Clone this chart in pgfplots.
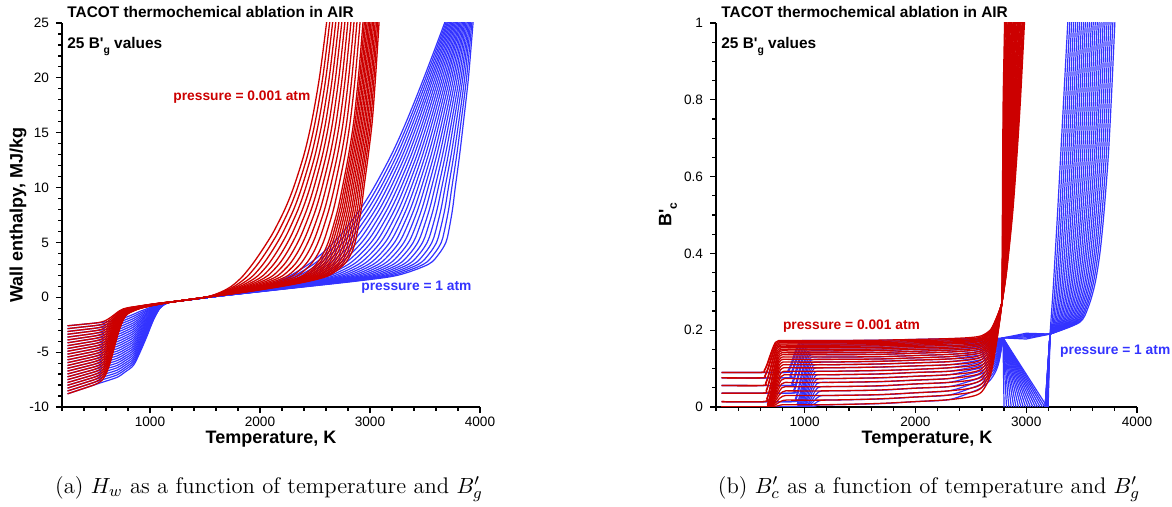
\documentclass[border=0pt]{standalone}
\usepackage{pgfplots}
\pgfplotsset{compat=1.18}
\usepackage{pgfplotstable}
\usepackage{fontspec}
\newfontfamily\arial{Liberation Sans}
\definecolor{rd}{RGB}{204,0,0}
\definecolor{bl}{RGB}{51,51,255}

% ---------- panel (a): low temperature part, rows = T, cols = 25 curves (H) ----------
\pgfplotstableread[header=false]{
250 -2.60 -2.86 -3.12 -3.37 -3.63 -3.89 -4.15 -4.41 -4.67 -4.92 -5.18 -5.44 -5.70 -5.96 -6.22 -6.47 -6.73 -6.99 -7.25 -7.51 -7.77 -8.02 -8.28 -8.54 -8.80
400 -2.45 -2.69 -2.94 -3.18 -3.43 -3.67 -3.91 -4.16 -4.40 -4.64 -4.89 -5.13 -5.38 -5.62 -5.86 -6.11 -6.35 -6.59 -6.84 -7.08 -7.33 -7.57 -7.81 -8.06 -8.30
500 -2.35 -2.58 -2.82 -3.05 -3.28 -3.52 -3.75 -3.98 -4.22 -4.45 -4.68 -4.92 -5.15 -5.38 -5.62 -5.85 -6.08 -6.32 -6.55 -6.78 -7.02 -7.25 -7.48 -7.72 -7.95
560 -2.25 -2.47 -2.70 -2.92 -3.14 -3.36 -3.59 -3.81 -4.03 -4.26 -4.48 -4.70 -4.93 -5.15 -5.37 -5.59 -5.82 -6.04 -6.26 -6.49 -6.71 -6.93 -7.15 -7.38 -7.60
600 -2.10 -2.30 -2.51 -2.71 -2.92 -3.12 -3.33 -3.53 -3.73 -3.94 -4.14 -4.35 -4.55 -4.75 -4.96 -5.16 -5.37 -5.57 -5.78 -5.98 -6.18 -6.39 -6.59 -6.80 -7.00
640 -1.85 -2.02 -2.19 -2.36 -2.53 -2.69 -2.86 -3.03 -3.20 -3.37 -3.54 -3.71 -3.88 -4.04 -4.21 -4.38 -4.55 -4.72 -4.89 -5.06 -5.23 -5.39 -5.56 -5.73 -5.90
680 -1.55 -1.67 -1.79 -1.91 -2.03 -2.14 -2.26 -2.38 -2.50 -2.62 -2.74 -2.86 -2.98 -3.09 -3.21 -3.33 -3.45 -3.57 -3.69 -3.81 -3.93 -4.04 -4.16 -4.28 -4.40
720 -1.25 -1.32 -1.40 -1.47 -1.54 -1.61 -1.69 -1.76 -1.83 -1.91 -1.98 -2.05 -2.13 -2.20 -2.27 -2.34 -2.42 -2.49 -2.56 -2.64 -2.71 -2.78 -2.85 -2.93 -3.00
760 -1.05 -1.09 -1.13 -1.17 -1.21 -1.25 -1.29 -1.33 -1.37 -1.41 -1.45 -1.49 -1.53 -1.56 -1.60 -1.64 -1.68 -1.72 -1.76 -1.80 -1.84 -1.88 -1.92 -1.96 -2.00
800 -0.95 -0.97 -1.00 -1.02 -1.04 -1.06 -1.09 -1.11 -1.13 -1.16 -1.18 -1.20 -1.23 -1.25 -1.27 -1.29 -1.32 -1.34 -1.36 -1.39 -1.41 -1.43 -1.45 -1.48 -1.50
900 -0.80 -0.81 -0.82 -0.83 -0.84 -0.85 -0.86 -0.87 -0.88 -0.89 -0.90 -0.91 -0.93 -0.94 -0.95 -0.96 -0.97 -0.98 -0.99 -1.00 -1.01 -1.02 -1.03 -1.04 -1.05
1000 -0.65 -0.66 -0.66 -0.67 -0.68 -0.68 -0.69 -0.69 -0.70 -0.71 -0.71 -0.72 -0.73 -0.73 -0.74 -0.74 -0.75 -0.76 -0.76 -0.77 -0.78 -0.78 -0.79 -0.79 -0.80
1100 -0.52 -0.52 -0.53 -0.53 -0.53 -0.54 -0.54 -0.54 -0.55 -0.55 -0.55 -0.56 -0.56 -0.56 -0.57 -0.57 -0.57 -0.58 -0.58 -0.58 -0.59 -0.59 -0.59 -0.60 -0.60
1200 -0.42 -0.42 -0.42 -0.42 -0.42 -0.42 -0.42 -0.42 -0.42 -0.42 -0.42 -0.42 -0.42 -0.42 -0.42 -0.42 -0.42 -0.42 -0.42 -0.42 -0.42 -0.42 -0.42 -0.42 -0.42
}\RAlow

\pgfplotstableread[header=false]{
250 -2.60 -2.86 -3.12 -3.37 -3.63 -3.89 -4.15 -4.41 -4.67 -4.92 -5.18 -5.44 -5.70 -5.96 -6.22 -6.47 -6.73 -6.99 -7.25 -7.51 -7.77 -8.02 -8.28 -8.54 -8.80
400 -2.45 -2.69 -2.94 -3.18 -3.43 -3.67 -3.91 -4.16 -4.40 -4.64 -4.89 -5.13 -5.38 -5.62 -5.86 -6.11 -6.35 -6.59 -6.84 -7.08 -7.33 -7.57 -7.81 -8.06 -8.30
550 -2.30 -2.53 -2.76 -2.99 -3.22 -3.45 -3.68 -3.90 -4.13 -4.36 -4.59 -4.82 -5.05 -5.28 -5.51 -5.74 -5.97 -6.20 -6.43 -6.65 -6.88 -7.11 -7.34 -7.57 -7.80
700 -2.10 -2.32 -2.53 -2.75 -2.97 -3.18 -3.40 -3.62 -3.83 -4.05 -4.27 -4.48 -4.70 -4.92 -5.13 -5.35 -5.57 -5.78 -6.00 -6.22 -6.43 -6.65 -6.87 -7.08 -7.30
775 -1.85 -2.06 -2.26 -2.47 -2.68 -2.88 -3.09 -3.29 -3.50 -3.71 -3.91 -4.12 -4.33 -4.53 -4.74 -4.94 -5.15 -5.36 -5.56 -5.77 -5.98 -6.18 -6.39 -6.59 -6.80
850 -1.55 -1.74 -1.94 -2.13 -2.33 -2.52 -2.71 -2.91 -3.10 -3.29 -3.49 -3.68 -3.88 -4.07 -4.26 -4.46 -4.65 -4.84 -5.04 -5.23 -5.43 -5.62 -5.81 -6.01 -6.20
910 -1.28 -1.44 -1.59 -1.75 -1.90 -2.06 -2.21 -2.37 -2.52 -2.68 -2.83 -2.99 -3.14 -3.30 -3.45 -3.61 -3.76 -3.92 -4.07 -4.23 -4.38 -4.54 -4.69 -4.85 -5.00
970 -1.05 -1.16 -1.26 -1.37 -1.48 -1.58 -1.69 -1.79 -1.90 -2.01 -2.11 -2.22 -2.33 -2.43 -2.54 -2.64 -2.75 -2.86 -2.96 -3.07 -3.18 -3.28 -3.39 -3.49 -3.60
1030 -0.80 -0.85 -0.91 -0.96 -1.02 -1.07 -1.13 -1.18 -1.23 -1.29 -1.34 -1.40 -1.45 -1.50 -1.56 -1.61 -1.67 -1.72 -1.78 -1.83 -1.88 -1.94 -1.99 -2.05 -2.10
1090 -0.62 -0.64 -0.65 -0.67 -0.68 -0.70 -0.72 -0.73 -0.75 -0.76 -0.78 -0.79 -0.81 -0.83 -0.84 -0.86 -0.87 -0.89 -0.90 -0.92 -0.94 -0.95 -0.97 -0.98 -1.00
1150 -0.48 -0.48 -0.49 -0.49 -0.49 -0.49 -0.50 -0.50 -0.50 -0.51 -0.51 -0.51 -0.52 -0.52 -0.52 -0.52 -0.53 -0.53 -0.53 -0.54 -0.54 -0.54 -0.54 -0.55 -0.55
1200 -0.42 -0.42 -0.42 -0.42 -0.42 -0.42 -0.42 -0.42 -0.42 -0.42 -0.42 -0.42 -0.42 -0.42 -0.42 -0.42 -0.42 -0.42 -0.42 -0.42 -0.42 -0.42 -0.42 -0.42 -0.42
}\BAlow

% ---------- panel (a): high temperature part, rows = H, cols = T of 25 curves ----------
\pgfplotstableread[header=false]{
-0.42 1200 1200 1200 1200 1200 1200 1200 1200 1200 1200 1200 1200 1200 1200 1200 1200 1200 1200 1200 1200 1200 1200 1200 1200 1200
0 1505 1505 1505 1505 1505 1505 1505 1505 1505 1505 1505 1505 1505 1505 1505 1505 1505 1505 1505 1505 1505 1505 1505 1505 1505
0.5 1650 1663 1677 1690 1703 1717 1730 1743 1757 1770 1783 1797 1810 1816 1821 1827 1833 1839 1845 1851 1857 1863 1868 1874 1880
1 1740 1767 1793 1820 1847 1873 1900 1926 1953 1980 2006 2033 2059 2071 2083 2095 2106 2118 2130 2142 2153 2165 2177 2189 2200
1.5 1800 1838 1877 1915 1953 1991 2029 2067 2106 2144 2182 2220 2258 2275 2292 2309 2325 2343 2359 2376 2393 2410 2426 2444 2460
2 1850 1895 1941 1986 2031 2075 2121 2166 2211 2256 2302 2347 2391 2412 2431 2451 2471 2491 2511 2531 2550 2571 2590 2611 2630
3 1930 1978 2027 2075 2124 2171 2220 2268 2317 2365 2414 2462 2510 2531 2552 2574 2595 2616 2637 2659 2680 2702 2722 2744 2765
4 2000 2048 2096 2144 2193 2240 2288 2336 2384 2432 2481 2529 2576 2598 2618 2640 2661 2682 2703 2725 2745 2767 2788 2809 2830
5 2065 2111 2158 2204 2251 2296 2343 2389 2435 2482 2528 2575 2620 2641 2661 2682 2702 2723 2743 2763 2783 2804 2824 2845 2865
6 2125 2169 2213 2257 2301 2345 2389 2433 2477 2521 2565 2609 2652 2672 2691 2711 2730 2750 2769 2788 2807 2827 2846 2866 2885
8 2225 2265 2306 2346 2386 2426 2466 2507 2547 2587 2627 2668 2707 2725 2743 2761 2778 2796 2814 2832 2849 2867 2885 2903 2920
10 2305 2342 2379 2416 2454 2490 2527 2564 2601 2638 2676 2713 2749 2766 2782 2798 2814 2831 2847 2864 2880 2896 2912 2929 2945
13 2400 2434 2468 2502 2536 2569 2603 2637 2671 2705 2739 2773 2806 2821 2836 2851 2866 2881 2896 2911 2925 2941 2955 2970 2985
16 2470 2502 2534 2566 2598 2629 2661 2693 2725 2757 2789 2820 2852 2866 2880 2894 2908 2922 2936 2950 2964 2978 2992 3006 3020
20 2540 2570 2599 2629 2658 2687 2717 2747 2776 2806 2835 2865 2894 2907 2920 2933 2946 2959 2972 2985 2998 3011 3024 3037 3050
25 2605 2633 2660 2688 2716 2743 2771 2798 2826 2854 2881 2909 2936 2948 2960 2973 2985 2997 3009 3021 3033 3046 3058 3070 3082
27 2625 2652 2679 2706 2733 2760 2787 2814 2841 2868 2895 2922 2949 2961 2973 2985 2997 3009 3020 3033 3044 3056 3068 3080 3092
}\RAhigh

\pgfplotstableread[header=false]{
-0.42 1200 1200 1200 1200 1200 1200 1200 1200 1200 1200 1200 1200 1200 1200 1200 1200 1200 1200 1200 1200 1200 1200 1200 1200 1200
0 1535 1535 1535 1535 1535 1535 1535 1535 1535 1535 1535 1535 1535 1535 1535 1535 1535 1535 1535 1535 1535 1535 1535 1535 1535
0.5 1850 1856 1862 1868 1873 1879 1885 1891 1897 1902 1908 1914 1920 1926 1932 1938 1943 1949 1955 1961 1967 1973 1978 1984 1990
1 2040 2057 2074 2091 2108 2125 2143 2160 2177 2194 2211 2228 2245 2262 2279 2296 2313 2330 2348 2365 2382 2399 2416 2433 2450
1.5 2175 2205 2235 2266 2296 2326 2356 2386 2417 2447 2477 2507 2538 2568 2598 2628 2658 2689 2719 2749 2779 2809 2840 2870 2900
2 2280 2320 2361 2401 2442 2482 2523 2563 2603 2644 2684 2725 2765 2805 2846 2886 2927 2967 3008 3048 3088 3129 3169 3210 3250
3 2440 2485 2531 2576 2622 2667 2713 2758 2803 2849 2894 2940 2985 3030 3076 3121 3167 3212 3258 3303 3348 3394 3439 3485 3530
4 2565 2609 2654 2698 2743 2787 2831 2876 2920 2964 3009 3053 3098 3142 3186 3231 3275 3319 3364 3408 3453 3497 3541 3586 3630
5 2670 2713 2755 2798 2840 2883 2925 2968 3010 3053 3095 3138 3180 3223 3265 3308 3350 3393 3435 3478 3520 3563 3605 3648 3690
6 2760 2800 2840 2879 2919 2959 2999 3039 3078 3118 3158 3198 3238 3277 3317 3357 3397 3436 3476 3516 3556 3596 3635 3675 3715
8 2910 2945 2980 3015 3050 3085 3120 3155 3190 3225 3260 3295 3330 3365 3400 3435 3470 3505 3540 3575 3610 3645 3680 3715 3750
10 3035 3066 3097 3127 3158 3189 3220 3251 3282 3312 3343 3374 3405 3436 3467 3497 3528 3559 3590 3621 3652 3682 3713 3744 3775
13 3195 3221 3247 3273 3298 3324 3350 3376 3402 3428 3453 3479 3505 3531 3557 3583 3608 3634 3660 3686 3712 3738 3763 3789 3815
16 3330 3352 3373 3395 3417 3438 3460 3482 3503 3525 3547 3568 3590 3612 3633 3655 3677 3698 3720 3742 3763 3785 3807 3828 3850
20 3490 3507 3524 3541 3558 3574 3591 3608 3625 3642 3659 3676 3693 3709 3726 3743 3760 3777 3794 3811 3828 3844 3861 3878 3895
25 3678 3689 3700 3710 3721 3732 3743 3754 3764 3775 3786 3797 3808 3818 3829 3840 3851 3861 3872 3883 3894 3905 3915 3926 3937
27 3745 3754 3763 3771 3780 3789 3798 3806 3815 3824 3833 3841 3850 3859 3868 3876 3885 3894 3903 3911 3920 3929 3938 3946 3955
}\BAhigh

% ---------- panel (b): plateau parts, rows = T, cols = B' of 25 curves ----------
\pgfplotstableread[header=false]{
850 0.173 0.170 0.167 0.164 0.161 0.158 0.154 0.150 0.146 0.141 0.136 0.130 0.124 0.117 0.110 0.102 0.093 0.084 0.074 0.064 0.053 0.042 0.030 0.018 0.006
1200 0.173 0.170 0.167 0.164 0.161 0.158 0.154 0.150 0.146 0.141 0.136 0.130 0.124 0.117 0.110 0.102 0.093 0.084 0.074 0.064 0.053 0.042 0.030 0.018 0.006
1650 0.174 0.171 0.168 0.165 0.162 0.159 0.155 0.151 0.147 0.142 0.137 0.131 0.125 0.119 0.112 0.104 0.095 0.086 0.076 0.066 0.055 0.044 0.032 0.021 0.009
2000 0.176 0.173 0.170 0.167 0.164 0.161 0.158 0.154 0.150 0.145 0.140 0.134 0.128 0.122 0.115 0.107 0.098 0.090 0.080 0.070 0.060 0.049 0.037 0.026 0.014
2300 0.178 0.175 0.172 0.169 0.167 0.164 0.160 0.156 0.152 0.148 0.143 0.137 0.131 0.125 0.118 0.110 0.102 0.093 0.084 0.074 0.064 0.053 0.042 0.031 0.019
2500 0.181 0.178 0.175 0.173 0.170 0.167 0.163 0.160 0.156 0.151 0.147 0.141 0.136 0.129 0.123 0.115 0.107 0.099 0.090 0.081 0.070 0.060 0.049 0.038 0.027
2600 0.186 0.183 0.180 0.178 0.175 0.173 0.169 0.166 0.162 0.158 0.153 0.148 0.143 0.137 0.131 0.124 0.116 0.108 0.100 0.091 0.081 0.072 0.061 0.051 0.040
2680 0.202 0.200 0.198 0.196 0.194 0.192 0.189 0.186 0.183 0.180 0.176 0.172 0.168 0.163 0.158 0.152 0.146 0.140 0.133 0.126 0.118 0.110 0.102 0.094 0.085
2730 0.231 0.230 0.229 0.228 0.226 0.225 0.224 0.222 0.220 0.218 0.216 0.214 0.212 0.209 0.206 0.203 0.199 0.196 0.192 0.188 0.183 0.179 0.174 0.169 0.164
2760 0.253 0.252 0.252 0.251 0.250 0.250 0.249 0.248 0.248 0.247 0.246 0.245 0.244 0.243 0.241 0.240 0.238 0.237 0.235 0.233 0.231 0.229 0.227 0.225 0.223
2780 0.27 0.27 0.27 0.27 0.27 0.27 0.27 0.27 0.27 0.27 0.27 0.27 0.27 0.27 0.27 0.27 0.27 0.27 0.27 0.27 0.27 0.27 0.27 0.27 0.27
}\RBmid

\pgfplotstableread[header=false]{
0.27 2780 2780 2780 2780 2780 2780 2780 2780 2780 2780 2780 2780 2780 2780 2780 2780 2780 2780 2780 2780 2780 2780 2780 2780 2780
0.35 2782 2784 2785 2787 2789 2790 2792 2794 2795 2797 2799 2800 2802 2804 2805 2807 2809 2810 2812 2814 2815 2817 2819 2820 2822
0.5 2785 2789 2793 2796 2800 2804 2808 2812 2815 2819 2823 2827 2831 2834 2838 2842 2846 2849 2853 2857 2861 2865 2868 2872 2876
0.65 2788 2793 2799 2804 2809 2814 2820 2825 2830 2836 2841 2846 2852 2857 2862 2867 2873 2878 2883 2889 2894 2899 2904 2910 2915
0.8 2792 2799 2805 2812 2818 2825 2831 2838 2844 2851 2857 2864 2870 2877 2883 2890 2896 2903 2909 2916 2922 2929 2935 2942 2948
1.0 2805 2812 2820 2827 2835 2842 2850 2857 2865 2872 2880 2887 2895 2902 2909 2917 2924 2932 2939 2947 2954 2962 2969 2977 2984
1.05 2809 2817 2824 2832 2840 2847 2855 2862 2870 2878 2885 2893 2900 2908 2916 2923 2931 2939 2946 2954 2961 2969 2977 2984 2992
}\RBhigh

\pgfplotstableread[header=false]{
1250 0.173 0.170 0.167 0.164 0.161 0.158 0.154 0.150 0.146 0.141 0.136 0.130 0.124 0.117 0.110 0.102 0.093 0.084 0.074 0.064 0.053 0.042 0.030 0.018 0.006
1700 0.174 0.171 0.168 0.165 0.162 0.159 0.155 0.151 0.147 0.142 0.137 0.131 0.125 0.119 0.112 0.104 0.095 0.086 0.076 0.066 0.055 0.044 0.032 0.021 0.009
2000 0.176 0.173 0.170 0.167 0.164 0.161 0.158 0.154 0.150 0.145 0.140 0.134 0.128 0.122 0.115 0.107 0.098 0.090 0.080 0.070 0.060 0.049 0.037 0.026 0.014
2300 0.178 0.175 0.172 0.169 0.167 0.164 0.160 0.156 0.152 0.148 0.143 0.137 0.131 0.125 0.118 0.110 0.102 0.093 0.084 0.074 0.064 0.053 0.042 0.031 0.019
2500 0.178 0.176 0.173 0.170 0.169 0.166 0.162 0.159 0.155 0.152 0.147 0.142 0.137 0.132 0.125 0.118 0.111 0.103 0.096 0.087 0.078 0.068 0.059 0.049 0.038
2600 0.178 0.176 0.174 0.171 0.170 0.167 0.164 0.161 0.158 0.154 0.150 0.146 0.141 0.136 0.130 0.124 0.118 0.110 0.103 0.095 0.087 0.078 0.070 0.061 0.051
2680 0.179 0.177 0.175 0.173 0.171 0.169 0.167 0.164 0.161 0.159 0.155 0.151 0.147 0.143 0.139 0.133 0.128 0.122 0.116 0.109 0.102 0.095 0.088 0.080 0.072
2730 0.179 0.177 0.176 0.174 0.173 0.172 0.170 0.168 0.165 0.163 0.161 0.158 0.155 0.151 0.148 0.144 0.139 0.135 0.130 0.125 0.120 0.114 0.108 0.103 0.096
2760 0.179 0.178 0.177 0.176 0.176 0.175 0.173 0.172 0.171 0.169 0.167 0.165 0.163 0.161 0.159 0.156 0.154 0.150 0.147 0.144 0.141 0.137 0.133 0.129 0.125
2790 0.18 0.18 0.18 0.18 0.18 0.18 0.18 0.18 0.18 0.18 0.18 0.18 0.18 0.18 0.18 0.18 0.18 0.18 0.18 0.18 0.18 0.18 0.18 0.18 0.18
}\BBmid

\pgfplotstableread[header=false]{
0.19 3215 3215 3215 3215 3215 3215 3215 3215 3215 3215 3215 3215 3215 3215 3215 3215 3215 3215 3215 3215 3215 3215 3215 3215 3215
0.22 3480 3469 3458 3448 3437 3426 3416 3405 3394 3383 3373 3362 3351 3340 3330 3319 3308 3297 3287 3276 3265 3254 3244 3233 3222
0.26 3560 3546 3533 3519 3505 3492 3478 3464 3451 3437 3423 3410 3396 3382 3369 3355 3341 3328 3314 3300 3287 3273 3259 3246 3232
0.32 3620 3604 3589 3573 3558 3542 3527 3511 3495 3480 3464 3449 3433 3417 3402 3386 3371 3355 3339 3324 3308 3293 3277 3262 3246
0.40 3665 3648 3631 3615 3598 3581 3564 3547 3531 3514 3497 3480 3464 3447 3430 3413 3396 3380 3363 3346 3329 3312 3296 3279 3262
0.50 3700 3683 3665 3648 3630 3613 3596 3578 3561 3543 3526 3508 3491 3474 3456 3439 3421 3404 3387 3369 3352 3334 3317 3300 3282
0.65 3740 3722 3704 3686 3668 3650 3632 3615 3597 3579 3561 3543 3525 3507 3489 3471 3453 3435 3418 3400 3382 3364 3346 3328 3310
0.80 3768 3750 3732 3714 3696 3678 3660 3643 3625 3607 3589 3571 3553 3535 3517 3499 3481 3463 3446 3428 3410 3392 3374 3356 3338
1.00 3800 3782 3765 3747 3729 3711 3694 3676 3658 3641 3623 3605 3588 3570 3552 3534 3517 3499 3481 3464 3446 3428 3410 3393 3375
1.05 3808 3790 3773 3755 3738 3720 3702 3685 3667 3649 3632 3614 3597 3579 3561 3544 3526 3508 3491 3473 3456 3438 3420 3403 3385
}\BBhigh

\pgfplotsset{
  rr/.style={rd, line width=0.65pt, no marks},
  bb/.style={bl, line width=0.6pt, no marks},
  tacot/.style={
    scale only axis, anchor=south west, height=192pt,
    xmin=200, xmax=4000,
    axis lines=left, axis line style={-, line width=0.9pt},
    tick align=outside,
    xtick={1000,2000,3000,4000},
    minor xtick={200,400,...,3800},
    major tick length=3pt, minor tick length=1.8pt,
    every tick/.style={black, line width=0.6pt},
    ticklabel style={font=\arial\fontsize{6.8}{8}\selectfont},
    xticklabel style={yshift=1.5pt},
    /pgf/number format/assume math mode=true,
    /pgf/number format/1000 sep={},
    scaled ticks=false,
    clip=true,
  }
}

\begin{document}
\begin{tikzpicture}
\path[use as bounding box] (-31pt,-50pt) rectangle (555pt,203.5pt);

% ================= panel (a) =================
\begin{axis}[tacot, at={(0pt,0pt)}, width=209pt,
  ymin=-10, ymax=25, ytick={-10,-5,...,25}, minor ytick={-9,...,24}]
\pgfplotsinvokeforeach{1,...,25}{\addplot[bb, smooth] table[x index=0, y index=#1] {\BAlow};}
\pgfplotsinvokeforeach{1,...,25}{\addplot[bb, smooth] table[x index=#1, y index=0] {\BAhigh};}
\pgfplotsinvokeforeach{1,...,25}{\addplot[rr, smooth] table[x index=0, y index=#1] {\RAlow};}
\pgfplotsinvokeforeach{1,...,25}{\addplot[rr, smooth] table[x index=#1, y index=0] {\RAhigh};}
\end{axis}

% ================= panel (b) =================
\begin{axis}[tacot, at={(327pt,0pt)}, width=210.5pt,
  ymin=0, ymax=1, ytick={0,0.2,...,1}, minor ytick={0.05,0.1,...,0.95}]
% blue: transitions
\addplot[bb, smooth] coordinates {(250,0.090)(820,0.090)(850,0.095)(875,0.111)(900,0.132)(925,0.152)(950,0.168)(980,0.173)(1250,0.173)};
\addplot[bb, smooth] coordinates {(250,0.090)(828,0.090)(858,0.095)(883,0.110)(908,0.130)(933,0.150)(958,0.165)(988,0.170)(1250,0.170)};
\addplot[bb, smooth] coordinates {(250,0.076)(837,0.076)(867,0.081)(892,0.099)(917,0.122)(942,0.144)(967,0.162)(997,0.167)(1250,0.167)};
\addplot[bb, smooth] coordinates {(250,0.076)(845,0.076)(875,0.081)(900,0.098)(925,0.120)(950,0.142)(975,0.159)(1005,0.164)(1250,0.164)};
\addplot[bb, smooth] coordinates {(250,0.056)(853,0.056)(883,0.062)(908,0.082)(933,0.109)(958,0.135)(983,0.155)(1013,0.161)(1250,0.161)};
\addplot[bb, smooth] coordinates {(250,0.056)(862,0.056)(892,0.062)(917,0.082)(942,0.107)(967,0.133)(992,0.152)(1022,0.158)(1250,0.158)};
\addplot[bb, smooth] coordinates {(250,0.036)(870,0.036)(900,0.043)(925,0.066)(950,0.095)(975,0.125)(1000,0.147)(1030,0.154)(1250,0.154)};
\addplot[bb, smooth] coordinates {(250,0.036)(878,0.036)(908,0.043)(933,0.065)(958,0.093)(983,0.122)(1008,0.143)(1038,0.150)(1250,0.150)};
\addplot[bb, smooth] coordinates {(250,0.014)(887,0.014)(917,0.022)(942,0.047)(967,0.080)(992,0.113)(1017,0.138)(1047,0.146)(1250,0.146)};
\addplot[bb, smooth] coordinates {(250,0.014)(895,0.014)(925,0.022)(950,0.046)(975,0.078)(1000,0.109)(1025,0.133)(1055,0.141)(1250,0.141)};
\addplot[bb, smooth] coordinates {(250,0)(903,0)(933,0.008)(958,0.034)(983,0.068)(1008,0.102)(1033,0.128)(1063,0.136)(1250,0.136)};
\addplot[bb, smooth] coordinates {(250,0)(912,0)(942,0.008)(967,0.033)(992,0.065)(1017,0.098)(1042,0.122)(1072,0.130)(1250,0.130)};
\addplot[bb, smooth] coordinates {(250,0)(920,0)(950,0.007)(975,0.031)(1000,0.062)(1025,0.093)(1050,0.117)(1080,0.124)(1250,0.124)};
\addplot[bb, smooth] coordinates {(250,0)(928,0)(958,0.007)(983,0.029)(1008,0.059)(1033,0.088)(1058,0.110)(1088,0.117)(1250,0.117)};
\addplot[bb, smooth] coordinates {(250,0)(937,0)(967,0.007)(992,0.028)(1017,0.055)(1042,0.083)(1067,0.103)(1097,0.110)(1250,0.110)};
\addplot[bb, smooth] coordinates {(250,0)(945,0)(975,0.006)(1000,0.026)(1025,0.051)(1050,0.077)(1075,0.096)(1105,0.102)(1250,0.102)};
\addplot[bb, smooth] coordinates {(250,0)(953,0)(983,0.006)(1008,0.023)(1033,0.047)(1058,0.070)(1083,0.087)(1113,0.093)(1250,0.093)};
\addplot[bb, smooth] coordinates {(250,0)(962,0)(992,0.005)(1017,0.021)(1042,0.042)(1067,0.063)(1092,0.079)(1122,0.084)(1250,0.084)};
\addplot[bb, smooth] coordinates {(250,0)(970,0)(1000,0.004)(1025,0.019)(1050,0.037)(1075,0.056)(1100,0.070)(1130,0.074)(1250,0.074)};
\addplot[bb, smooth] coordinates {(250,0)(978,0)(1008,0.004)(1033,0.016)(1058,0.032)(1083,0.048)(1108,0.060)(1138,0.064)(1250,0.064)};
\addplot[bb, smooth] coordinates {(250,0)(987,0)(1017,0.003)(1042,0.013)(1067,0.027)(1092,0.040)(1117,0.050)(1147,0.053)(1250,0.053)};
\addplot[bb, smooth] coordinates {(250,0)(995,0)(1025,0.003)(1050,0.011)(1075,0.021)(1100,0.032)(1125,0.039)(1155,0.042)(1250,0.042)};
\addplot[bb, smooth] coordinates {(250,0)(1003,0)(1033,0.002)(1058,0.008)(1083,0.015)(1108,0.023)(1133,0.028)(1163,0.030)(1250,0.030)};
\addplot[bb, smooth] coordinates {(250,0)(1012,0)(1042,0.001)(1067,0.005)(1092,0.009)(1117,0.014)(1142,0.017)(1172,0.018)(1250,0.018)};
\addplot[bb, smooth] coordinates {(250,0)(1020,0)(1050,0.000)(1075,0.002)(1100,0.003)(1125,0.005)(1150,0.006)(1180,0.006)(1250,0.006)};
% blue: plateaus
\pgfplotsinvokeforeach{1,...,25}{\addplot[bb, smooth] table[x index=0, y index=#1] {\BBmid};}
% blue: fan after 2790 K
\addplot[bb] coordinates {(2790,0.18)(3000,0.192)(3215,0.19)};
\addplot[bb] coordinates {(2790,0.18)(3000,0.189)(3215,0.19)};
\addplot[bb] coordinates {(2790,0.18)(3000,0.186)(3215,0.19)};
\addplot[bb] coordinates {(2790,0.18)(3000,0.183)(3215,0.19)};
\addplot[bb] coordinates {(2790,0.18)(3000,0.180)(3215,0.19)};
\addplot[bb] coordinates {(2790,0.18)(3000,0.177)(3215,0.19)};
\addplot[bb] coordinates {(2790,0.18)(3190,0)(3193,-0.03)(3195,-0.03)(3198,0)(3215,0.19)};
\addplot[bb] coordinates {(2790,0.18)(3168,0)(3171,-0.03)(3192,-0.03)(3195,0)(3215,0.19)};
\addplot[bb] coordinates {(2790,0.18)(3147,0)(3150,-0.03)(3189,-0.03)(3192,0)(3215,0.19)};
\addplot[bb] coordinates {(2790,0.18)(3125,0)(3128,-0.03)(3187,-0.03)(3190,0)(3215,0.19)};
\addplot[bb] coordinates {(2790,0.18)(3103,0)(3106,-0.03)(3185,-0.03)(3188,0)(3215,0.19)};
\addplot[bb] coordinates {(2790,0.18)(3082,0)(3085,-0.03)(3183,-0.03)(3186,0)(3215,0.19)};
\addplot[bb] coordinates {(2790,0.18)(3060,0)(3063,-0.03)(3181,-0.03)(3184,0)(3215,0.19)};
\addplot[bb] coordinates {(2790,0.18)(3038,0)(3041,-0.03)(3179,-0.03)(3182,0)(3215,0.19)};
\addplot[bb] coordinates {(2790,0.18)(3017,0)(3020,-0.03)(3177,-0.03)(3180,0)(3215,0.19)};
\addplot[bb] coordinates {(2790,0.18)(2995,0)(2998,-0.03)(3175,-0.03)(3178,0)(3215,0.19)};
\addplot[bb] coordinates {(2790,0.18)(2973,0)(2976,-0.03)(3174,-0.03)(3177,0)(3215,0.19)};
\addplot[bb] coordinates {(2790,0.18)(2952,0)(2955,-0.03)(3173,-0.03)(3176,0)(3215,0.19)};
\addplot[bb] coordinates {(2790,0.18)(2930,0)(2933,-0.03)(3172,-0.03)(3175,0)(3215,0.19)};
\addplot[bb] coordinates {(2790,0.18)(2908,0)(2911,-0.03)(3171,-0.03)(3174,0)(3215,0.19)};
\addplot[bb] coordinates {(2790,0.18)(2887,0)(2890,-0.03)(3170,-0.03)(3173,0)(3215,0.19)};
\addplot[bb] coordinates {(2790,0.18)(2865,0)(2868,-0.03)(3169,-0.03)(3172,0)(3215,0.19)};
\addplot[bb] coordinates {(2790,0.18)(2843,0)(2846,-0.03)(3168,-0.03)(3171,0)(3215,0.19)};
\addplot[bb] coordinates {(2790,0.18)(2822,0)(2825,-0.03)(3167,-0.03)(3170,0)(3215,0.19)};
\addplot[bb] coordinates {(2790,0.18)(2800,0)(2803,-0.03)(3167,-0.03)(3170,0)(3215,0.19)};
% blue: final rise
\pgfplotsinvokeforeach{1,...,25}{\addplot[bb, smooth] table[x index=#1, y index=0] {\BBhigh};}
% red: transitions
\addplot[rr, smooth] coordinates {(250,0.090)(605,0.090)(635,0.095)(660,0.111)(685,0.132)(710,0.152)(735,0.168)(765,0.173)(850,0.173)};
\addplot[rr, smooth] coordinates {(250,0.090)(608,0.090)(638,0.095)(663,0.110)(688,0.130)(713,0.150)(738,0.165)(768,0.170)(850,0.170)};
\addplot[rr, smooth] coordinates {(250,0.076)(611,0.076)(641,0.081)(666,0.099)(691,0.122)(716,0.144)(741,0.162)(771,0.167)(850,0.167)};
\addplot[rr, smooth] coordinates {(250,0.076)(614,0.076)(644,0.081)(669,0.098)(694,0.120)(719,0.142)(744,0.159)(774,0.164)(850,0.164)};
\addplot[rr, smooth] coordinates {(250,0.056)(617,0.056)(647,0.062)(672,0.082)(697,0.109)(722,0.135)(747,0.155)(777,0.161)(850,0.161)};
\addplot[rr, smooth] coordinates {(250,0.056)(620,0.056)(650,0.062)(675,0.082)(700,0.107)(725,0.133)(750,0.152)(780,0.158)(850,0.158)};
\addplot[rr, smooth] coordinates {(250,0.036)(623,0.036)(653,0.043)(678,0.066)(703,0.095)(728,0.125)(753,0.147)(783,0.154)(850,0.154)};
\addplot[rr, smooth] coordinates {(250,0.036)(626,0.036)(656,0.043)(681,0.065)(706,0.093)(731,0.122)(756,0.143)(786,0.150)(850,0.150)};
\addplot[rr, smooth] coordinates {(250,0.014)(629,0.014)(659,0.022)(684,0.047)(709,0.080)(734,0.113)(759,0.138)(789,0.146)(850,0.146)};
\addplot[rr, smooth] coordinates {(250,0.014)(632,0.014)(662,0.022)(687,0.046)(712,0.078)(737,0.109)(762,0.133)(792,0.141)(850,0.141)};
\addplot[rr, smooth] coordinates {(250,0)(635,0)(665,0.008)(690,0.034)(715,0.068)(740,0.102)(765,0.128)(795,0.136)(850,0.136)};
\addplot[rr, smooth] coordinates {(250,0)(638,0)(668,0.008)(693,0.033)(718,0.065)(743,0.098)(768,0.122)(798,0.130)(850,0.130)};
\addplot[rr, smooth] coordinates {(250,0)(641,0)(671,0.007)(696,0.031)(721,0.062)(746,0.093)(771,0.117)(801,0.124)(850,0.124)};
\addplot[rr, smooth] coordinates {(250,0)(644,0)(674,0.007)(699,0.029)(724,0.059)(749,0.088)(774,0.110)(804,0.117)(850,0.117)};
\addplot[rr, smooth] coordinates {(250,0)(647,0)(677,0.007)(702,0.028)(727,0.055)(752,0.083)(777,0.103)(807,0.110)(850,0.110)};
\addplot[rr, smooth] coordinates {(250,0)(650,0)(680,0.006)(705,0.026)(730,0.051)(755,0.077)(780,0.096)(810,0.102)(850,0.102)};
\addplot[rr, smooth] coordinates {(250,0)(653,0)(683,0.006)(708,0.023)(733,0.047)(758,0.070)(783,0.087)(813,0.093)(850,0.093)};
\addplot[rr, smooth] coordinates {(250,0)(656,0)(686,0.005)(711,0.021)(736,0.042)(761,0.063)(786,0.079)(816,0.084)(850,0.084)};
\addplot[rr, smooth] coordinates {(250,0)(659,0)(689,0.004)(714,0.019)(739,0.037)(764,0.056)(789,0.070)(819,0.074)(850,0.074)};
\addplot[rr, smooth] coordinates {(250,0)(662,0)(692,0.004)(717,0.016)(742,0.032)(767,0.048)(792,0.060)(822,0.064)(850,0.064)};
\addplot[rr, smooth] coordinates {(250,0)(665,0)(695,0.003)(720,0.013)(745,0.027)(770,0.040)(795,0.050)(825,0.053)(850,0.053)};
\addplot[rr, smooth] coordinates {(250,0)(668,0)(698,0.003)(723,0.011)(748,0.021)(773,0.032)(798,0.039)(828,0.042)(850,0.042)};
\addplot[rr, smooth] coordinates {(250,0)(671,0)(701,0.002)(726,0.008)(751,0.015)(776,0.023)(801,0.028)(831,0.030)(850,0.030)};
\addplot[rr, smooth] coordinates {(250,0)(674,0)(704,0.001)(729,0.005)(754,0.009)(779,0.014)(804,0.017)(834,0.018)(850,0.018)};
\addplot[rr, smooth] coordinates {(250,0)(677,0)(707,0.000)(732,0.002)(757,0.003)(782,0.005)(807,0.006)(837,0.006)(850,0.006)};
% red: plateaus and sublimation rise
\pgfplotsinvokeforeach{1,...,25}{\addplot[rr, smooth] table[x index=0, y index=#1] {\RBmid};}
\pgfplotsinvokeforeach{1,...,25}{\addplot[rr, smooth] table[x index=#1, y index=0] {\RBhigh};}
\end{axis}

% ================= texts =================
\begin{scope}[every node/.style={inner sep=0pt}]
\node[anchor=base west, font=\arial\bfseries\fontsize{7.7}{9}\selectfont] at (2.5pt,194.5pt) {TACOT thermochemical ablation in AIR};
\node[anchor=base west, font=\arial\bfseries\fontsize{7.7}{9}\selectfont] at (2.5pt,179pt) {25 B'\raisebox{-0.6ex}{\fontsize{5.2}{6}\selectfont g} values};
\node[anchor=base west, font=\arial\bfseries\fontsize{7.7}{9}\selectfont] at (329.5pt,194.5pt) {TACOT thermochemical ablation in AIR};
\node[anchor=base west, font=\arial\bfseries\fontsize{7.7}{9}\selectfont] at (329.5pt,179pt) {25 B'\raisebox{-0.6ex}{\fontsize{5.2}{6}\selectfont g} values};

\node[rotate=90, font=\arial\bfseries\fontsize{9}{10}\selectfont] at (-22pt,96pt) {Wall enthalpy, MJ/kg};
\node[rotate=90, font=\arial\bfseries\fontsize{9}{10}\selectfont] at (303pt,96pt) {B'\raisebox{-0.6ex}{\fontsize{6}{7}\selectfont c}};
\node[font=\arial\bfseries\fontsize{9}{10}\selectfont] at (104.5pt,-16pt) {Temperature, K};
\node[font=\arial\bfseries\fontsize{9}{10}\selectfont] at (432.5pt,-16pt) {Temperature, K};

\node[anchor=west, text=rd, font=\arial\bfseries\fontsize{6.9}{8}\selectfont] at (55.5pt,155pt) {pressure = 0.001 atm};
\node[anchor=west, text=bl, font=\arial\bfseries\fontsize{6.9}{8}\selectfont] at (149.5pt,60pt) {pressure = 1 atm};
\node[anchor=west, text=rd, font=\arial\bfseries\fontsize{6.9}{8}\selectfont] at (360.3pt,40.3pt) {pressure = 0.001 atm};
\node[anchor=west, text=bl, font=\arial\bfseries\fontsize{6.9}{8}\selectfont] at (498.9pt,28pt) {pressure = 1 atm};

\node[font=\fontsize{11.3}{13}\selectfont] at (103.5pt,-41pt) {(a) $H_w$ as a function of temperature and $B'_g$};
\node[font=\fontsize{11.3}{13}\selectfont] at (433.5pt,-41pt) {(b) $B'_c$ as a function of temperature and $B'_g$};
\end{scope}
\end{tikzpicture}
\end{document}
